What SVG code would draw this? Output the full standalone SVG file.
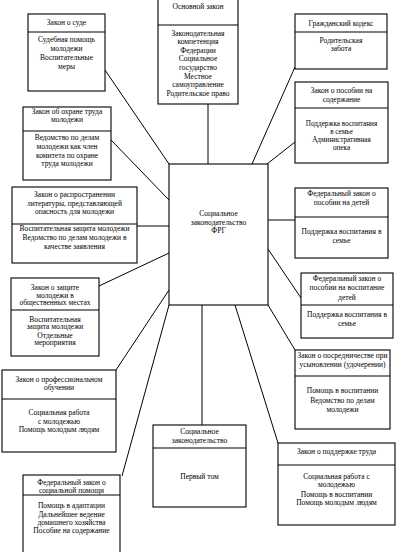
<svg xmlns="http://www.w3.org/2000/svg" width="404" height="552" viewBox="0 0 404 552">
<style>
.b{fill:#fff;stroke:#000;stroke-width:1.1}
.d{stroke:#000;stroke-width:1.1;fill:none}
.c{stroke:#000;stroke-width:1;fill:none}
text{font-family:"Liberation Serif","Times New Roman",serif;font-size:7.5px;text-anchor:middle;fill:#000}
.s{font-size:7.2px}
</style>
<rect width="404" height="552" fill="#fff"/>
<g id="connectors">
<line class="c" x1="105" y1="70" x2="169" y2="164"/>
<line class="c" x1="208" y1="104" x2="208" y2="164"/>
<line class="c" x1="295" y1="67" x2="252" y2="164"/>
<line class="c" x1="295" y1="142" x2="267" y2="164"/>
<line class="c" x1="111" y1="140" x2="169" y2="200"/>
<line class="c" x1="137" y1="226" x2="169" y2="226"/>
<line class="c" x1="99" y1="286" x2="169" y2="253"/>
<line class="c" x1="169" y1="290" x2="116" y2="370"/>
<line class="c" x1="169" y1="305" x2="122" y2="476"/>
<line class="c" x1="202" y1="305" x2="202" y2="425"/>
<line class="c" x1="235" y1="305" x2="278" y2="443"/>
<line class="c" x1="268" y1="305" x2="295" y2="350"/>
<line class="c" x1="268" y1="220" x2="295" y2="220"/>
<line class="c" x1="268" y1="249" x2="301" y2="298"/>
</g>
<g id="center">
<rect class="b" x="169" y="164" width="99" height="141"/>
<text x="218.5" y="216">Социальное</text>
<text x="218.5" y="224.5">законодательство</text>
<text x="218.5" y="233">ФРГ</text>
</g>
<g id="sud">
<rect class="b" x="28" y="14" width="77" height="77"/>
<line class="d" x1="28" y1="32" x2="105" y2="32"/>
<text x="66.5" y="25">Закон о суде</text>
<text x="66.5" y="41.5">Судебная помощь</text>
<text x="66.5" y="50.5">молодежи</text>
<text x="66.5" y="59.5">Воспитательные</text>
<text x="66.5" y="68.5">меры</text>
</g>
<g id="osnovnoy">
<rect class="b" x="158" y="-1" width="80" height="105"/>
<line class="d" x1="158" y1="25" x2="238" y2="25"/>
<text x="198" y="8.5">Основной закон</text>
<text x="198" y="35.5">Законодательная</text>
<text x="198" y="44.2">компетенция</text>
<text x="198" y="52.8">Федерации</text>
<text x="198" y="61.4">Социальное</text>
<text x="198" y="70">государство</text>
<text x="198" y="78.6">Местное</text>
<text x="198" y="87.2">самоуправление</text>
<text x="198" y="95.8">Родительское право</text>
</g>
<g id="grazhd">
<rect class="b" x="295" y="14" width="92" height="55"/>
<line class="d" x1="295" y1="32" x2="387" y2="32"/>
<text x="341" y="25.5">Гражданский кодекс</text>
<text x="341" y="42.5">Родительская</text>
<text x="341" y="50.5">забота</text>
</g>
<g id="soderzhanie">
<rect class="b" x="295" y="82" width="93" height="81"/>
<line class="d" x1="295" y1="108" x2="388" y2="108"/>
<text x="341.5" y="92.5">Закон о пособии на</text>
<text x="341.5" y="101.5">содержание</text>
<text class="s" x="341.5" y="126">Поддержка воспитания</text>
<text class="s" x="341.5" y="134">в семье</text>
<text class="s" x="341.5" y="142">Административная</text>
<text class="s" x="341.5" y="150">опека</text>
</g>
<g id="ohrana">
<rect class="b" x="23" y="107" width="88" height="73"/>
<line class="d" x1="23" y1="131" x2="111" y2="131"/>
<text x="67" y="114">Закон об охране труда</text>
<text x="67" y="122">молодежи</text>
<text x="67" y="140">Ведомство по делам</text>
<text x="67" y="149">молодежи как член</text>
<text x="67" y="157.5">комитета по охране</text>
<text x="67" y="166">труда молодежи</text>
</g>
<g id="rasprostr">
<rect class="b" x="12" y="187" width="125" height="76"/>
<line class="d" x1="12" y1="224" x2="137" y2="224"/>
<text x="74.5" y="196.5">Закон о распространении</text>
<text x="74.5" y="205.5">литературы, представляющей</text>
<text x="74.5" y="214">опасность для молодежи</text>
<text x="74.5" y="230.5">Воспитательная защита молодежи</text>
<text x="74.5" y="240">Ведомство по делам молодежи в</text>
<text x="74.5" y="248.5">качестве заявления</text>
</g>
<g id="zashchita">
<rect class="b" x="11" y="278" width="88" height="78"/>
<line class="d" x1="11" y1="310" x2="99" y2="310"/>
<text x="55" y="290">Закон о защите</text>
<text x="55" y="297.5">молодежи в</text>
<text x="55" y="305">общественных местах</text>
<text x="55" y="321.5">Воспитательная</text>
<text x="55" y="329">защита молодежи</text>
<text x="55" y="337.5">Отдельные</text>
<text x="55" y="345">мероприятия</text>
</g>
<g id="detey">
<rect class="b" x="295" y="188" width="93" height="70"/>
<line class="d" x1="295" y1="217" x2="388" y2="217"/>
<text x="341.5" y="196">Федеральный закон о</text>
<text x="341.5" y="205">пособии на  детей</text>
<text x="341.5" y="233.5">Поддержка воспитания в</text>
<text x="341.5" y="242.5">семье</text>
</g>
<g id="vospitanie">
<rect class="b" x="301" y="273" width="92" height="65"/>
<line class="d" x1="301" y1="305" x2="393" y2="305"/>
<text x="347" y="280.5">Федеральный закон о</text>
<text x="347" y="290">пособии на воспитание</text>
<text x="347" y="299.5">детей</text>
<text x="347" y="316.5">Поддержка воспитания в</text>
<text x="347" y="325.5">семье</text>
</g>
<g id="posrednich">
<rect class="b" x="295" y="350" width="95" height="79"/>
<line class="d" x1="295" y1="376" x2="390" y2="376"/>
<text x="342.5" y="358">Закон о посредничестве при</text>
<text x="342.5" y="366.5">усыновлении (удочерении)</text>
<text x="342.5" y="393">Помощь в воспитании</text>
<text x="342.5" y="402.5">Ведомство по делам</text>
<text x="342.5" y="411.5">молодежи</text>
</g>
<g id="podderzhka">
<rect class="b" x="278" y="443" width="117" height="82"/>
<line class="d" x1="278" y1="465" x2="395" y2="465"/>
<text x="336.5" y="454">Закон о поддержке труда</text>
<text x="336.5" y="479">Социальная работа с</text>
<text x="336.5" y="487">молодежью</text>
<text x="336.5" y="496.5">Помощь в воспитании</text>
<text x="336.5" y="504.5">Помощь молодым людям</text>
</g>
<g id="soczakon">
<rect class="b" x="153" y="425" width="93" height="82"/>
<line class="d" x1="153" y1="448" x2="246" y2="448"/>
<text x="199.5" y="433.5">Социальное</text>
<text x="199.5" y="442.5">законодательство</text>
<text x="199.5" y="478.5">Первый том</text>
</g>
<g id="proff">
<rect class="b" x="2" y="370" width="114" height="82"/>
<line class="d" x1="2" y1="399" x2="116" y2="399"/>
<text x="59" y="381.5">Закон о профессиональном</text>
<text x="59" y="390">обучении</text>
<text x="59" y="415">Социальная работа</text>
<text x="59" y="423.5">с молодежью</text>
<text x="59" y="431.5">Помощь молодым людям</text>
</g>
<g id="socpomosh">
<rect class="b" x="23" y="475" width="97" height="90"/>
<line class="d" x1="23" y1="495" x2="120" y2="495"/>
<text x="71.5" y="485">Федеральный закон о</text>
<text x="71.5" y="493">социальной помощи</text>
<text x="71.5" y="508">Помощь в адаптации</text>
<text x="71.5" y="516.5">Дальнейшее ведение</text>
<text x="71.5" y="524.5">домашнего хозяйства</text>
<text x="71.5" y="532.5">Пособие на содержание</text>
</g>
</svg>
